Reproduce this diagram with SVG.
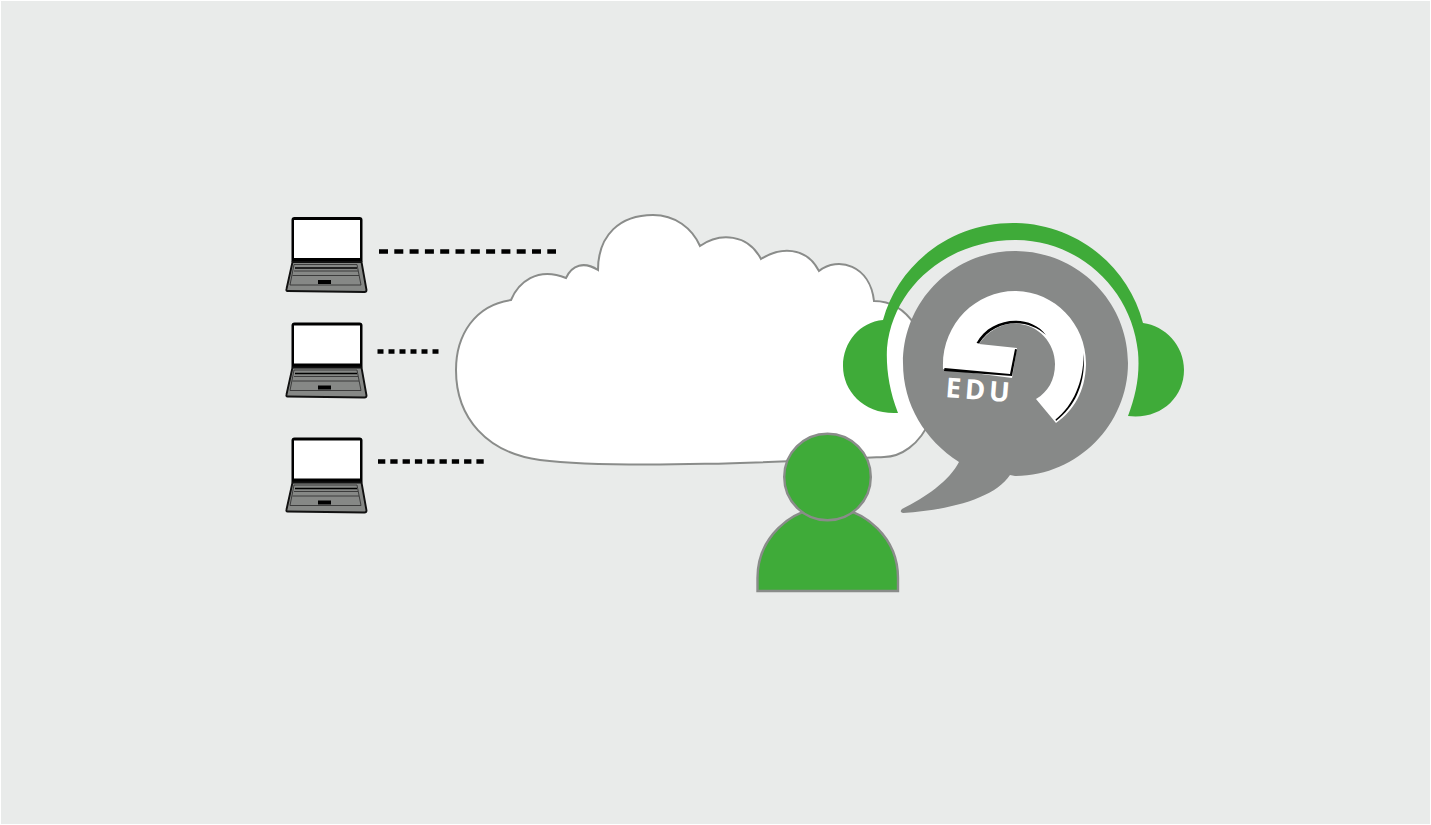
<svg xmlns="http://www.w3.org/2000/svg" width="1431" height="825" viewBox="0 0 1431 825">
<style>
.dash{fill:none;stroke:#000;stroke-width:4.500}
.lid{fill:#000}
.scr{fill:#fff}
.base{fill:#868886;stroke:#111;stroke-width:1.900;stroke-linejoin:round}
.key{fill:none;stroke:#333;stroke-width:.9}
.edge{fill:#fff;stroke:#8a8c8a;stroke-width:2}
.grn{fill:#3fab39}
.usr{fill:#3fab39;stroke:#8a8c8a;stroke-width:2.400}
</style>
<defs>
<g id="laptop">
<path class="lid" d="M291.500 220q0-3 3-3h65q3 0 3 3v42H291.500z"/>
<rect class="scr" x="294" y="220" width="66" height="38"/>
<path class="base" d="M292.500 262H361.500L366.500 290q0 2-2 2L287.500 291q-1.500 0-1-2z"/>
<path class="key" d="M294 264.500H357L361 285H290ZM294 271H358M292.500 275.500H359"/>
<path d="M295 268H357" stroke="#000" stroke-width="1.400"/>
<rect x="318" y="280" width="13" height="4" fill="#000"/>
</g>
</defs>
<rect x="0" y="0" width="1431" height="825" fill="#fff"/>
<rect x="1" y="1" width="1429" height="823" fill="#e9ebea"/>
<g id="connectors">
<path class="dash" stroke-dasharray="9 6.300" d="M379 251.500H556"/>
<path class="dash" stroke-dasharray="6 5" d="M377.500 351.500H439.500"/>
<path class="dash" stroke-dasharray="7.300 5" d="M378 461.500H484"/>
</g>
<g id="laptop-1"><use href="#laptop"/></g>
<g id="laptop-2"><use href="#laptop" y="105.500"/></g>
<g id="laptop-3"><use href="#laptop" y="220.500"/></g>
<g id="cloud">
<path class="edge" d="M511 300C518 283 537 266 566 278C572 265 584 261 598 270C598 235 620 215 653 215C675 215 692 228 700 246C720 232 748 234 761 259C780 247 806 246 819 271C838 256 870 265 874 301C892 301 905 310 915 325L930 420C920 445 900 457 884 457C800 461 620 470 540 460C487 453 456 418 456 370C456 335 475 305 511 300Z"/>
</g>
<g id="headset">
<path class="grn" d="M898 413C889 390 886 368 887 348C893 285 950 240 1015 240C1080 240 1132 290 1138 352C1140 375 1136 395 1128 416C1160 420 1184 398 1184 370C1184 345 1165 326 1143 323C1128 265 1075 223 1013 223C950 223 898 265 883 320C860 322 843 342 843 366C843 392 865 415 898 413Z"/>
</g>
<g id="speech-bubble">
<path fill="#878988" d="M1015 251C1077 251 1128 301 1128 363C1128 425 1077 476 1015 476L1010 475C995 498 950 510 903 513Q899 512 902 509C925 498 950 480 959 462C925 440 903 405 903 363C903 301 953 251 1015 251Z"/>
<path fill="#fff" d="M943 369C941 325 975 291 1015 291C1055 291 1087 325 1086 365C1085 392 1074 410 1056 423L1036 399C1048 392 1055 380 1055 364C1055 342 1037 323 1013 323.500C1000 324 987 332 979 344L1017 348L1012 378Z"/>
<path fill="#000" d="M1083.500 353C1086 380 1077 405 1056 421L1055.500 419.500C1074 405 1084 380 1083.500 353ZM976.500 343C990 317 1030 313 1046 335C1028 318 995 318 979 343.500ZM1015 349L1017 349.500L1012 376L944 371L944.500 368L1010 374Z"/>
<text x="945" y="397" fill="#fff" font-family="'Open Sans','Liberation Sans',sans-serif" font-weight="700" font-size="27.500" letter-spacing="3.800" transform="rotate(4.500 945 397)">EDU</text>
</g>
<g id="user">
<path class="usr" d="M757.500 591V578A70.250 70.250 0 0 1 898 578V591Z"/>
<circle class="usr" cx="827.500" cy="477" r="43.300"/>
</g>
</svg>
